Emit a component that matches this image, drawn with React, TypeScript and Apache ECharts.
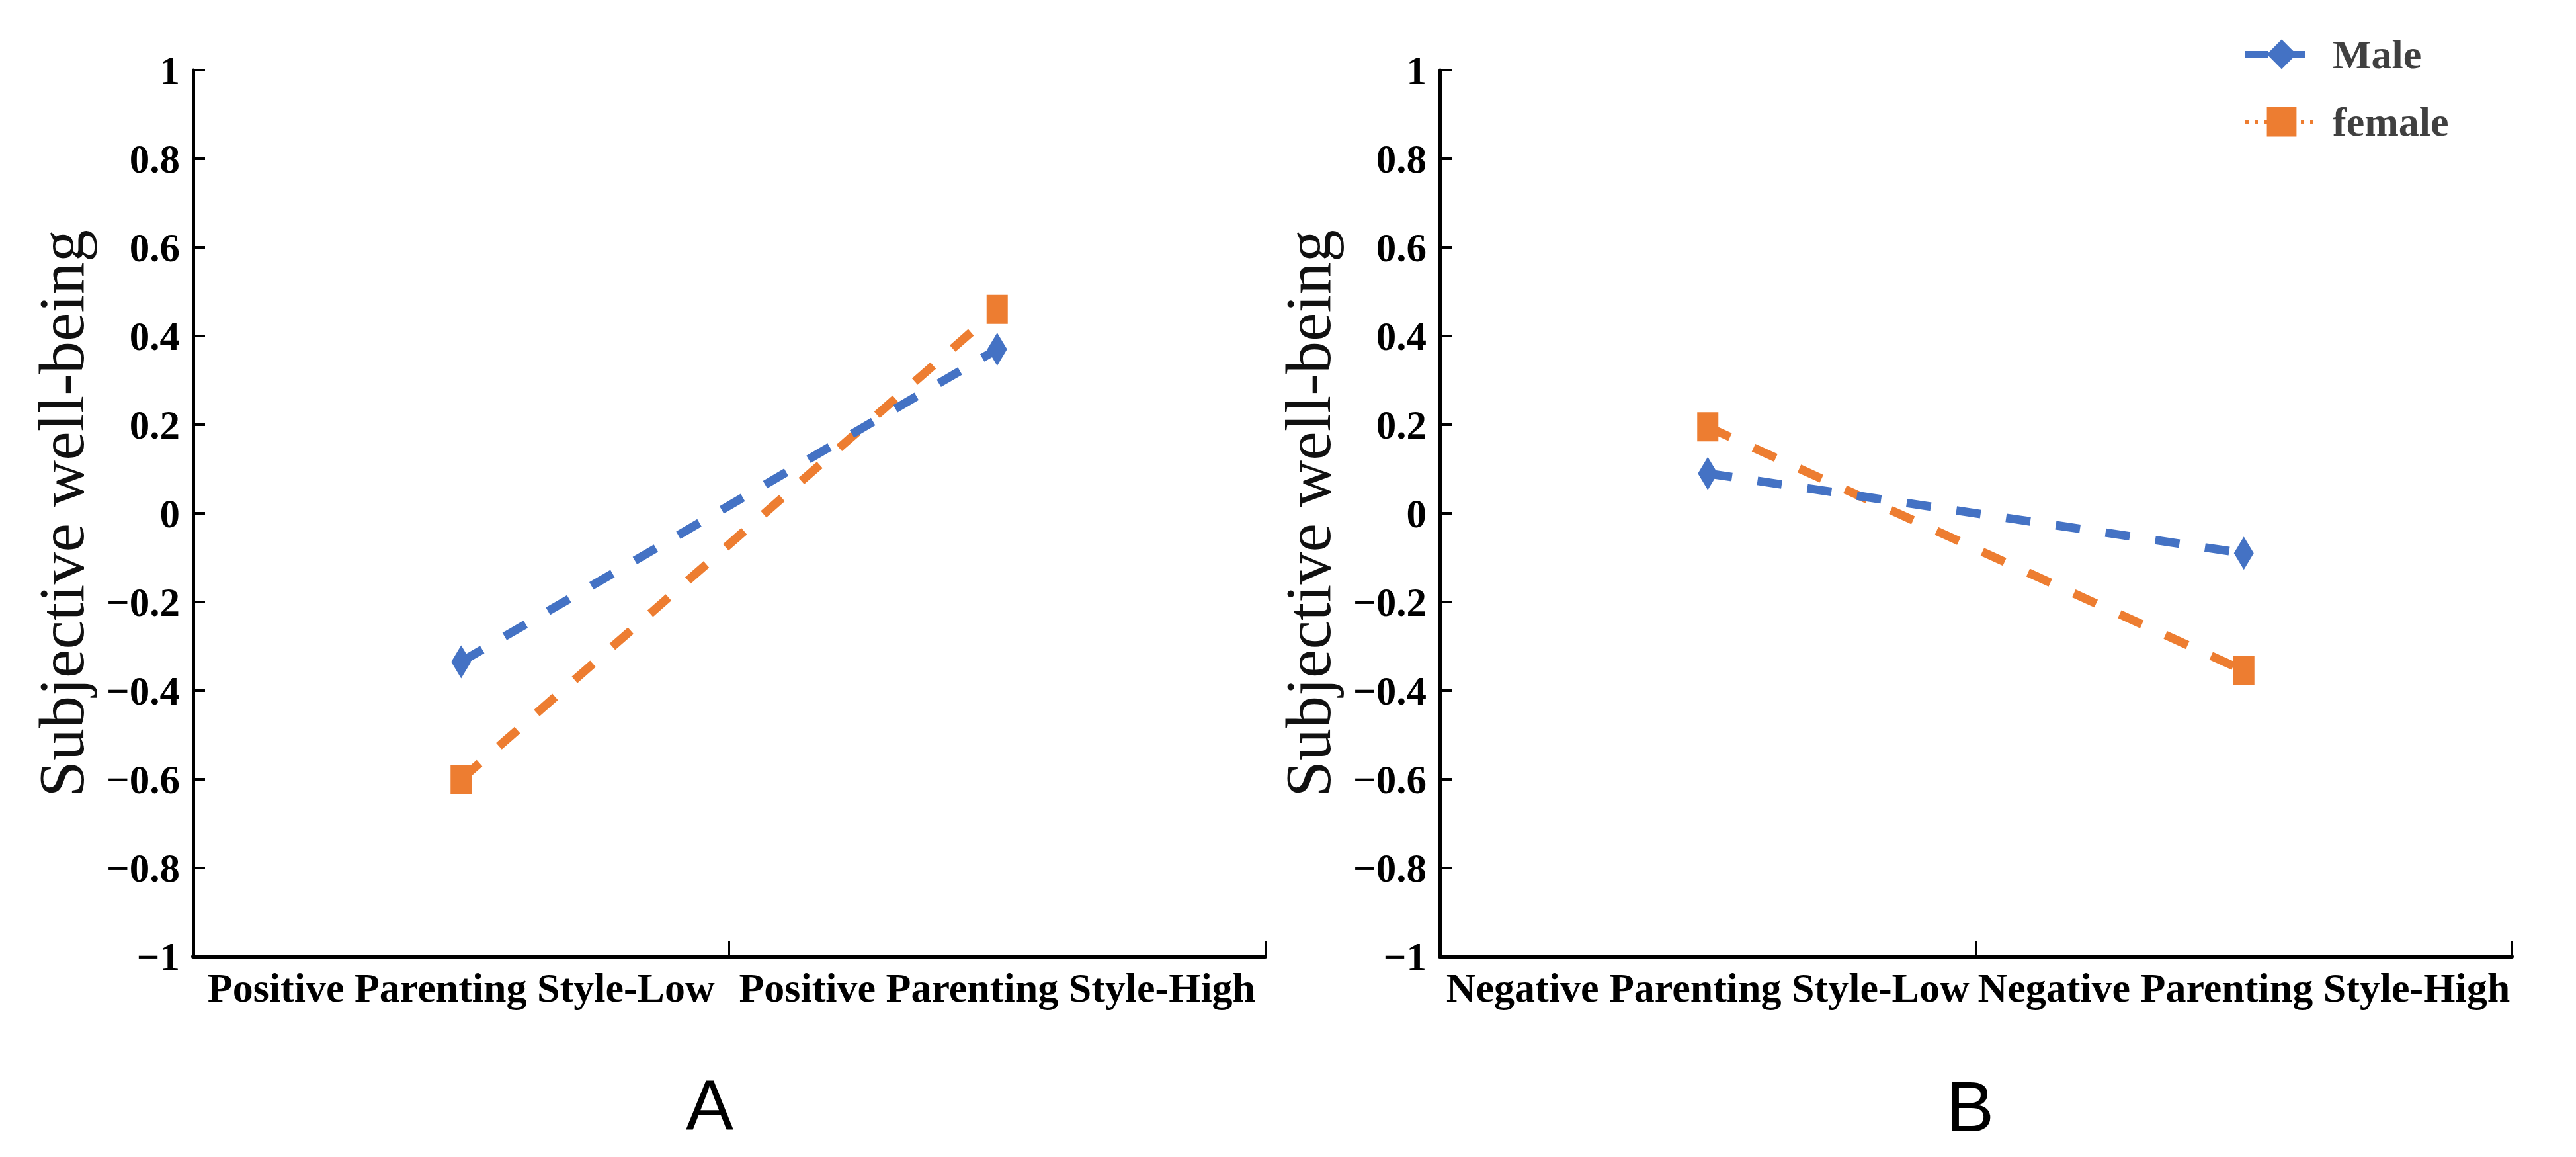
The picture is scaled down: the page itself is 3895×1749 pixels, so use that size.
import React, { useEffect, useRef } from "react";
import * as echarts from "echarts";

// ---- data ----
const categoriesA = ["Positive Parenting Style-Low", "Positive Parenting Style-High"];
const categoriesB = ["Negative Parenting Style-Low", "Negative Parenting Style-High"];
const maleA = [-0.335, 0.37];
const femaleA = [-0.6, 0.46];
const maleB = [0.09, -0.09];
const femaleB = [0.195, -0.355];
const seriesNames = ["Male", "female"];
const yMin = -1;
const yMax = 1;
const yInterval = 0.2;
const panelLetters = ["A", "B"];
const yAxisTitle = "Subjective well-being";

const SERIF = "'Liberation Serif', 'Times New Roman', serif";
const SANS = "'Liberation Sans', Arial, sans-serif";
const BLUE = "#4472C4";
const ORANGE = "#ED7D31";

function fmtTick(v: number): string {
  if (Math.abs(v) < 1e-9) return "0";
  const s = String(parseFloat(v.toFixed(1)));
  return s.replace("-", "\u2212");
}

export default function App() {
  const ref = useRef<HTMLDivElement>(null);
  useEffect(() => {
    document.body.style.margin = "0";
    if (!ref.current) return;
    const chart = echarts.init(ref.current, undefined, { renderer: "svg" });

    const grids = [
      { left: 292, right: 3895 - 1913, top: 106, bottom: 1749 - 1446 },
      { left: 2177, right: 3895 - 3798, top: 106, bottom: 1749 - 1446 },
    ];

    const mkX = (cats: string[], gi: number) => ({
      type: "category",
      gridIndex: gi,
      data: cats,
      boundaryGap: true,
      axisLine: { show: true, onZero: false, lineStyle: { color: "#000", width: 6 } },
      axisTick: { show: true, inside: true, length: 24, lineStyle: { color: "#000", width: 3 } },
      axisLabel: {
        interval: 0,
        margin: 16,
        color: "#000",
        fontFamily: SERIF,
        fontWeight: "bold",
        fontSize: 62,
      },
      splitLine: { show: false },
    });

    const mkY = (gi: number) => ({
      type: "value",
      gridIndex: gi,
      min: yMin,
      max: yMax,
      interval: yInterval,
      name: yAxisTitle,
      nameLocation: "middle",
      nameRotate: 90,
      nameGap: 150,
      nameTextStyle: { fontFamily: SERIF, fontSize: 98, color: "#111" },
      axisLine: { show: true, lineStyle: { color: "#000", width: 5 } },
      axisTick: { show: true, inside: true, length: 18, lineStyle: { color: "#000", width: 4 } },
      axisLabel: {
        margin: 20,
        color: "#000",
        fontFamily: SERIF,
        fontWeight: "bold",
        fontSize: 61,
        formatter: (v: number) => fmtTick(v),
      },
      splitLine: { show: false },
    });

    const lineDash = [37, 39];
    const mkSeries = (name: string, data: number[], gi: number, color: string, isMale: boolean) => ({
      name,
      type: "line",
      xAxisIndex: gi,
      yAxisIndex: gi,
      data,
      symbol: isMale ? "diamond" : "rect",
      symbolSize: isMale ? [30, 50] : [32, 44],
      itemStyle: { color },
      lineStyle: { color, width: 13, type: lineDash },
      z: isMale ? 3 : 2,
    });

    chart.setOption({
      animation: false,
      backgroundColor: "#fff",
      grid: grids,
      xAxis: [mkX(categoriesA, 0), mkX(categoriesB, 1)],
      yAxis: [mkY(0), mkY(1)],
      legend: {
        orient: "vertical",
        left: 3385,
        top: 46,
        itemWidth: 110,
        itemHeight: 56,
        itemGap: 40,
        data: [
          { name: seriesNames[0], lineStyle: { type: [34, 22], width: 10 } },
          { name: seriesNames[1], lineStyle: { type: [5, 9], width: 6 } },
        ],
        textStyle: {
          fontFamily: SERIF,
          fontWeight: "bold",
          fontSize: 62,
          color: "#404040",
          padding: [0, 0, 0, 17],
        },
      },
      series: [
        mkSeries(seriesNames[0], maleA, 0, BLUE, true),
        mkSeries(seriesNames[1], femaleA, 0, ORANGE, false),
        mkSeries(seriesNames[0], maleB, 1, BLUE, true),
        mkSeries(seriesNames[1], femaleB, 1, ORANGE, false),
      ],
      graphic: [
        {
          type: "text",
          x: 1073,
          y: 1670,
          style: {
            text: panelLetters[0],
            font: `normal 108px ${SANS}`,
            fill: "#000",
            textAlign: "center",
            textVerticalAlign: "middle",
          },
        },
        {
          type: "text",
          x: 2979,
          y: 1672,
          style: {
            text: panelLetters[1],
            font: `normal 108px ${SANS}`,
            fill: "#000",
            textAlign: "center",
            textVerticalAlign: "middle",
          },
        },
      ],
    });

    return () => chart.dispose();
  }, []);

  return <div ref={ref} style={{ width: 3895, height: 1749 }} />;
}
